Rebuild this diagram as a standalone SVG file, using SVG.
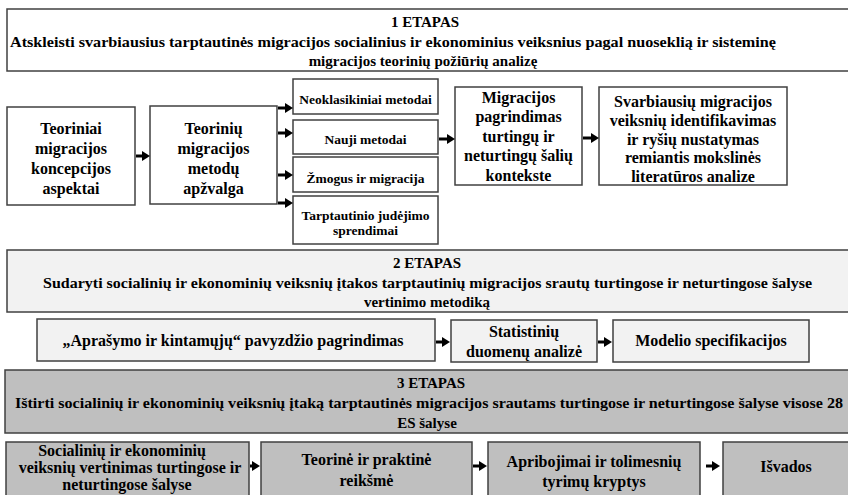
<svg xmlns="http://www.w3.org/2000/svg" width="848" height="495" viewBox="0 0 848 495">
<style>
text{font-family:"Liberation Serif","Times New Roman",serif;font-weight:bold;fill:#000;text-anchor:middle}
.b{stroke:#404040;stroke-width:1.5}
.w{fill:#fff}
.l{fill:#f2f2f2}
.g{fill:#bfbfbf}
.t16{font-size:16px}
.t15{font-size:15px}
.t13{font-size:13.5px}
.c line{stroke:#000;stroke-width:3}
</style>
<defs>
<marker id="ah" viewBox="0 0 8 10" refX="4" refY="5" markerWidth="8" markerHeight="10" markerUnits="userSpaceOnUse" orient="auto"><path d="M0,0 L8,5 L0,10 z" fill="#000"/></marker>
</defs>
<rect width="848" height="495" fill="#fff"/>

<g id="etapas1">
<rect class="b w" x="7" y="9" width="845" height="62"/>
<text class="t15" x="425" y="27">1 ETAPAS</text>
<text class="t15" x="393" y="47" textLength="766" lengthAdjust="spacingAndGlyphs">Atskleisti svarbiausius tarptautinės migracijos socialinius ir ekonominius veiksnius pagal nuoseklią ir sisteminę</text>
<text class="t15" x="423" y="66">migracijos teorinių požiūrių analizę</text>
</g>

<g id="n_teoriniai">
<rect class="b w" x="7" y="107" width="128" height="98"/>
<text class="t16" x="71" y="133.5">Teoriniai</text>
<text class="t16" x="71" y="153.5">migracijos</text>
<text class="t16" x="71" y="173.5">koncepcijos</text>
<text class="t16" x="71" y="193.5">aspektai</text>
</g>

<g id="n_metodu">
<rect class="b w" x="150" y="106" width="127" height="98"/>
<text class="t16" x="213.5" y="133.5">Teorinių</text>
<text class="t16" x="213.5" y="153.5">migracijos</text>
<text class="t16" x="213.5" y="173.5">metodų</text>
<text class="t16" x="213.5" y="193.5">apžvalga</text>
</g>

<g id="n_neoklas">
<rect class="b w" x="293" y="79" width="145" height="35"/>
<text class="t13" x="365.5" y="103.5">Neoklasikiniai metodai</text>
</g>
<g id="n_nauji">
<rect class="b w" x="293" y="120" width="145" height="34"/>
<text class="t13" x="365.5" y="143.5">Nauji metodai</text>
</g>
<g id="n_zmogus">
<rect class="b w" x="293" y="157" width="145" height="35"/>
<text class="t13" x="365.5" y="182.5">Žmogus ir migracija</text>
</g>
<g id="n_tarpt">
<rect class="b w" x="293" y="196" width="145" height="48"/>
<text class="t13" x="365.5" y="219.5">Tarptautinio judėjimo</text>
<text class="t13" x="365.5" y="234.5">sprendimai</text>
</g>

<g id="n_pagrind">
<rect class="b w" x="455" y="87" width="127" height="98"/>
<text class="t16" x="518.5" y="103">Migracijos</text>
<text class="t16" x="518.5" y="122">pagrindimas</text>
<text class="t16" x="518.5" y="142">turtingų ir</text>
<text class="t16" x="518.5" y="161">neturtingų šalių</text>
<text class="t16" x="518.5" y="181">kontekste</text>
</g>

<g id="n_svarb">
<rect class="b w" x="599" y="87" width="188" height="98"/>
<text class="t16" x="693" y="107">Svarbiausių migracijos</text>
<text class="t16" x="693" y="126">veiksnių identifikavimas</text>
<text class="t16" x="693" y="145">ir ryšių nustatymas</text>
<text class="t16" x="693" y="163">remiantis mokslinės</text>
<text class="t16" x="693" y="182">literatūros analize</text>
</g>

<g id="etapas2">
<rect class="b l" x="7" y="250" width="845" height="62"/>
<text class="t15" x="427" y="268">2 ETAPAS</text>
<text class="t15" x="427.5" y="288" textLength="769" lengthAdjust="spacingAndGlyphs">Sudaryti socialinių ir ekonominių veiksnių įtakos tarptautinių migracijos srautų turtingose ir neturtingose šalyse</text>
<text class="t15" x="427" y="307">vertinimo metodiką</text>
</g>

<g id="n_aprasymo">
<rect class="b l" x="37" y="319" width="398" height="42"/>
<text class="t16" x="233" y="346">„Aprašymo ir kintamųjų“ pavyzdžio pagrindimas</text>
</g>
<g id="n_statist">
<rect class="b l" x="451" y="320" width="146" height="42"/>
<text class="t16" x="524" y="337">Statistinių</text>
<text class="t16" x="524" y="357">duomenų analizė</text>
</g>
<g id="n_modelio">
<rect class="b l" x="613" y="320" width="196" height="42"/>
<text class="t16" x="711" y="346">Modelio specifikacijos</text>
</g>

<g id="etapas3">
<rect class="b g" x="5" y="370" width="847" height="63"/>
<text class="t15" x="431" y="388">3 ETAPAS</text>
<text class="t15" x="429" y="408" textLength="828" lengthAdjust="spacingAndGlyphs">Ištirti socialinių ir ekonominių veiksnių įtaką tarptautinės migracijos srautams turtingose ir neturtingose šalyse visose 28</text>
<text class="t15" x="427" y="428">ES šalyse</text>
</g>

<g id="n_social">
<rect class="b g" x="6" y="442" width="243" height="60"/>
<text class="t16" x="122" y="456">Socialinių ir ekonominių</text>
<text class="t16" x="130" y="473">veiksnių vertinimas turtingose ir</text>
<text class="t16" x="127" y="490">neturtingose šalyse</text>
</g>
<g id="n_teorine">
<rect class="b g" x="261" y="442" width="211" height="60"/>
<text class="t16" x="366.5" y="465">Teorinė ir praktinė</text>
<text class="t16" x="366.5" y="486">reikšmė</text>
</g>
<g id="n_aprib">
<rect class="b g" x="488" y="442" width="212" height="60"/>
<text class="t16" x="594" y="467">Apribojimai ir tolimesnių</text>
<text class="t16" x="594" y="487">tyrimų kryptys</text>
</g>
<g id="n_isvados">
<rect class="b g" x="723" y="442" width="130" height="60"/>
<text class="t16" x="786" y="472">Išvados</text>
</g>

<g id="connectors" class="c">
<line x1="136" y1="156" x2="146" y2="156" marker-end="url(#ah)"/>
<line x1="278" y1="108" x2="289" y2="108" marker-end="url(#ah)"/>
<line x1="278" y1="133" x2="289" y2="133" marker-end="url(#ah)"/>
<line x1="278" y1="175" x2="289" y2="175" marker-end="url(#ah)"/>
<line x1="278" y1="203" x2="289" y2="203" marker-end="url(#ah)"/>
<line x1="439" y1="139" x2="451" y2="139" marker-end="url(#ah)"/>
<line x1="583" y1="138" x2="595" y2="138" marker-end="url(#ah)"/>
<line x1="436" y1="342" x2="446" y2="342" marker-end="url(#ah)"/>
<line x1="598" y1="342" x2="608" y2="342" marker-end="url(#ah)"/>
<line x1="250" y1="466" x2="256" y2="466" marker-end="url(#ah)"/>
<line x1="473" y1="466" x2="483" y2="466" marker-end="url(#ah)"/>
<line x1="706" y1="466" x2="716" y2="466" marker-end="url(#ah)"/>
</g>
</svg>
